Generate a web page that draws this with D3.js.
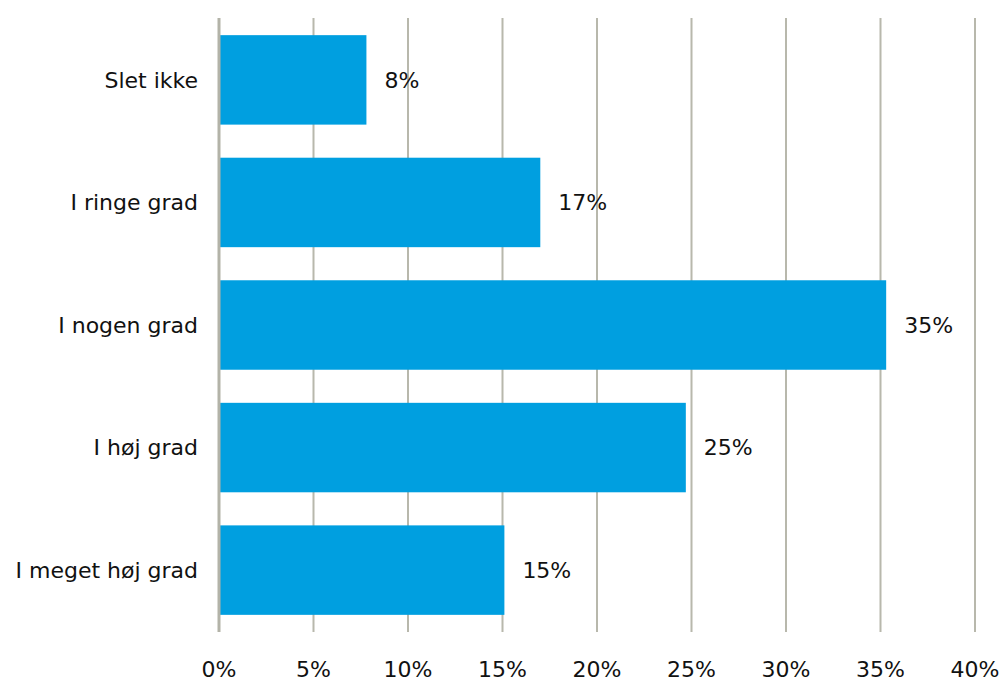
<!DOCTYPE html>
<html lang="en">
<head>
    <meta charset="UTF-8">
    <title>Chart</title>
    <script src="https://d3js.org/d3.v7.min.js"></script>
    <style type="text/css">
        body { margin: 0; background: #fff; }
        text { font-family: "DejaVu Sans", Verdana, sans-serif; fill: #111; }
    </style>
</head>
<body>
<div id="graph"></div>
<script>
    // data
    var categories = ["Slet ikke", "I ringe grad", "I nogen grad", "I høj grad", "I meget høj grad"];
    var values = [7.8, 17.0, 35.3, 24.7, 15.1];
    var valueLabels = ["8%", "17%", "35%", "25%", "15%"];
    var xTicks = [0, 5, 10, 15, 20, 25, 30, 35, 40];

    var width = 1003, height = 682;
    var plotLeft = 219, plotRight = 975, plotTop = 18, plotBottom = 632;

    var svg = d3.select("#graph").append("svg")
        .attr("width", width)
        .attr("height", height);

    var x = d3.scaleLinear().domain([0, 40]).range([plotLeft, plotRight]);
    var y = d3.scaleBand().domain(categories).range([plotTop, plotBottom]).paddingInner(0.27).paddingOuter(0.14);

    // grid
    svg.selectAll(".grid")
        .data(xTicks.slice(1))
        .enter().append("line")
        .attr("class", "grid")
        .attr("x1", d => x(d)).attr("x2", d => x(d))
        .attr("y1", plotTop).attr("y2", plotBottom)
        .attr("stroke", "#b8b8ac")
        .attr("stroke-width", 2);

    // bars
    svg.selectAll("rect")
        .data(values)
        .enter().append("rect")
        .attr("x", x(0))
        .attr("y", (d, i) => y(categories[i]))
        .attr("width", d => x(d) - x(0))
        .attr("height", y.bandwidth())
        .attr("fill", "#009fe0");

    // value labels
    svg.selectAll(".val")
        .data(values)
        .enter().append("text")
        .attr("class", "val")
        .attr("x", d => x(d) + 18)
        .attr("y", (d, i) => y(categories[i]) + y.bandwidth() / 2)
        .attr("dy", "0.35em")
        .attr("font-size", 22)
        .text((d, i) => valueLabels[i]);

    // y axis line
    svg.append("line")
        .attr("x1", x(0)).attr("x2", x(0))
        .attr("y1", plotTop).attr("y2", plotBottom)
        .attr("stroke", "#b3b3a8")
        .attr("stroke-width", 3);

    // category labels
    svg.selectAll(".cat")
        .data(categories)
        .enter().append("text")
        .attr("class", "cat")
        .attr("x", 198)
        .attr("y", d => y(d) + y.bandwidth() / 2)
        .attr("dy", "0.35em")
        .attr("text-anchor", "end")
        .attr("font-size", 22)
        .text(d => d);

    // x tick labels
    svg.selectAll(".tick")
        .data(xTicks)
        .enter().append("text")
        .attr("class", "tick")
        .attr("x", d => x(d))
        .attr("y", 677)
        .attr("text-anchor", "middle")
        .attr("font-size", 22)
        .text(d => d + "%");
</script>
</body>
</html>
